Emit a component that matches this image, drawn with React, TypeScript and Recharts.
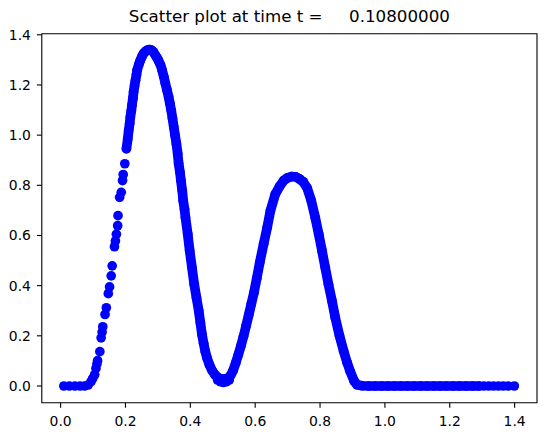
import React from 'react';
import {
  ComposedChart,
  Scatter,
  Line,
  XAxis,
  YAxis,
  ReferenceArea,
} from 'recharts';

// particles on the sparse left flank (drawn as separate dots)
const sparseX = [0.010, 0.027, 0.044, 0.060, 0.074, 0.085, 0.094, 0.099, 0.105, 0.109, 0.112, 0.114, 0.121, 0.125, 0.128, 0.130, 0.137, 0.141, 0.147, 0.151, 0.156, 0.159, 0.166, 0.169, 0.172, 0.176, 0.177, 0.182, 0.187, 0.191, 0.193, 0.198];
const sparseY = [0.0, 0.0, 0.0, 0.0, 0.0, 0.004, 0.018, 0.030, 0.045, 0.070, 0.088, 0.101, 0.137, 0.192, 0.215, 0.236, 0.285, 0.312, 0.368, 0.395, 0.439, 0.479, 0.555, 0.578, 0.605, 0.639, 0.679, 0.752, 0.772, 0.819, 0.843, 0.886];

// particles where they are packed into a continuous band
const bandX = [
  0.203, 0.207, 0.210, 0.213, 0.215, 0.218, 0.220, 0.223, 0.225, 0.228, 0.231, 0.234, 0.236, 0.241, 0.246, 0.251, 0.256, 0.262, 0.268, 0.274,
  0.280, 0.286, 0.292, 0.297, 0.302, 0.308, 0.313, 0.318, 0.323, 0.328, 0.333, 0.337, 0.341, 0.345, 0.349, 0.353, 0.357, 0.361, 0.364, 0.368,
  0.371, 0.375, 0.378, 0.382, 0.385, 0.392, 0.398, 0.405, 0.412, 0.419, 0.426, 0.431, 0.436, 0.441, 0.446, 0.452, 0.459, 0.467, 0.476, 0.486,
  0.496, 0.506, 0.516, 0.524, 0.532, 0.540, 0.548, 0.556, 0.564, 0.572, 0.580, 0.588, 0.596, 0.605, 0.614, 0.626, 0.637, 0.647, 0.662, 0.675, 0.688,
  0.700, 0.712, 0.724, 0.736, 0.748, 0.760, 0.773, 0.785, 0.796, 0.806, 0.816, 0.826, 0.837, 0.847, 0.860, 0.873, 0.883, 0.893, 0.905, 0.914,
  0.930, 0.950, 0.970, 0.990, 1.010, 1.030, 1.050, 1.070, 1.090, 1.110, 1.130, 1.150, 1.170, 1.190, 1.210, 1.230, 1.250, 1.270, 1.290,
];
const bandY = [
  0.946, 0.985, 1.019, 1.047, 1.072, 1.097, 1.119, 1.147, 1.172, 1.197, 1.219, 1.241, 1.259, 1.281, 1.299, 1.314, 1.326, 1.334, 1.339, 1.341,
  1.339, 1.332, 1.319, 1.309, 1.297, 1.280, 1.259, 1.234, 1.206, 1.180, 1.152, 1.126, 1.099, 1.066, 1.032, 0.999, 0.966, 0.926, 0.886, 0.852,
  0.819, 0.779, 0.739, 0.705, 0.672, 0.605, 0.539, 0.472, 0.405, 0.352, 0.299, 0.252, 0.205, 0.170, 0.138, 0.110, 0.084, 0.062, 0.045, 0.033,
  0.027, 0.027, 0.031, 0.042, 0.062, 0.092, 0.125, 0.160, 0.198, 0.240, 0.283, 0.327, 0.371, 0.430, 0.492, 0.566, 0.632, 0.699, 0.765, 0.795, 0.819,
  0.830, 0.835, 0.834, 0.826, 0.814, 0.790, 0.738, 0.672, 0.605, 0.539, 0.472, 0.405, 0.338, 0.272, 0.200, 0.138, 0.095, 0.058, 0.020, 0.005,
  0.001, 0.0, 0.0, 0.0, 0.0, 0.0, 0.0, 0.0, 0.0, 0.0, 0.0, 0.0, 0.0, 0.0, 0.0, 0.0, 0.0, 0.0, 0.0,
];

// lower particles at the bottom of the first valley
const valleyX = [0.484, 0.493, 0.502, 0.511, 0.520];
const valleyY = [0.024, 0.017, 0.014, 0.017, 0.024];

// spaced-out particles at the right end
const tailX = [1.305, 1.320, 1.335, 1.350, 1.365, 1.380, 1.399];
const tailY = [0.0, 0.0, 0.0, 0.0, 0.0, 0.0, 0.0];

const xTicks = [0.0, 0.2, 0.4, 0.6, 0.8, 1.0, 1.2, 1.4];
const yTicks = [0.0, 0.2, 0.4, 0.6, 0.8, 1.0, 1.2, 1.4];

const titleText = 'Scatter plot at time t =     0.10800000';

const xDomain: [number, number] = [-0.058, 1.469];
const yDomain: [number, number] = [-0.067, 1.404];

const zip = (xs: number[], ys: number[]) => xs.map((x, i) => ({ x, y: ys[i] }));

const sparseData = zip(sparseX, sparseY);
const bandData = zip(bandX, bandY);
const valleyData = zip(valleyX, valleyY);
const tailData = zip(tailX, tailY);
const allPoints = [...sparseData, ...bandData, ...valleyData, ...tailData];

const BLUE = '#0000ff';
const FONT = '"DejaVu Sans", sans-serif';
const tickStyle = { fill: '#000', fontSize: 13.9, fontFamily: FONT };
// marker face (6pt) plus its 1pt edge in the same colour
const MARKER_R = 4.85;

const Dot = (props: any) => {
  const { cx, cy } = props;
  if (cx == null || cy == null) return null;
  return <circle cx={cx} cy={cy} r={MARKER_R} fill={BLUE} />;
};

const App: React.FC = () => {
  return (
    <div style={{ position: 'absolute', left: 0, top: 0, width: 547, height: 435, background: '#fff' }}>
      <ComposedChart
        width={547}
        height={435}
        margin={{ top: 33.8, right: 10, bottom: 7.2, left: 0 }}
      >
        <XAxis
          type="number"
          dataKey="x"
          domain={xDomain}
          allowDataOverflow
          ticks={xTicks}
          tickFormatter={(v: number) => v.toFixed(1)}
          height={25}
          axisLine={false}
          tickLine={{ stroke: '#000', strokeWidth: 1.1 }}
          tickSize={4.9}
          tickMargin={8}
          tick={tickStyle}
        />
        <YAxis
          type="number"
          dataKey="y"
          domain={yDomain}
          allowDataOverflow
          ticks={yTicks}
          tickFormatter={(v: number) => v.toFixed(1)}
          width={41.8}
          axisLine={false}
          tickLine={{ stroke: '#000', strokeWidth: 1.1 }}
          tickSize={4.9}
          tickMargin={6}
          tick={tickStyle}
        />
        <Line
          data={bandData}
          dataKey="y"
          type="linear"
          stroke={BLUE}
          strokeWidth={MARKER_R * 2}
          strokeLinecap="round"
          strokeLinejoin="round"
          dot={false}
          activeDot={false}
          isAnimationActive={false}
        />
        <Scatter data={allPoints} dataKey="y" shape={<Dot />} isAnimationActive={false} />
        <ReferenceArea
          x1={xDomain[0]}
          x2={xDomain[1]}
          y1={yDomain[0]}
          y2={yDomain[1]}
          fill="none"
          fillOpacity={0}
          stroke="#000"
          strokeWidth={1.1}
        />
      </ComposedChart>
      <svg width={547} height={40} style={{ position: 'absolute', left: 0, top: 0 }}>
        <text
          x={289.4}
          y={22}
          textAnchor="middle"
          fontFamily={FONT}
          fontSize={16.7}
          fill="#000"
          style={{ whiteSpace: 'pre' }}
        >
          {titleText}
        </text>
      </svg>
    </div>
  );
};

export default App;
